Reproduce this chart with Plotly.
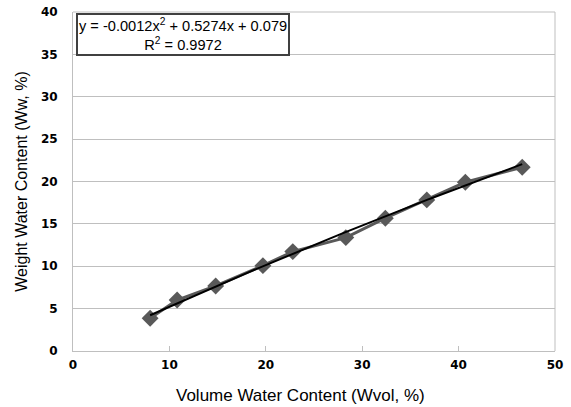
import numpy as np
import plotly.graph_objects as go

# Data
wvol = [8.0, 10.8, 14.8, 19.7, 22.8, 28.3, 32.4, 36.7, 40.7, 46.6]
ww = [3.86, 6.02, 7.67, 10.07, 11.73, 13.38, 15.67, 17.83, 19.92, 21.69]

# Polynomial trendline coefficients (as shown in the equation label)
trend_coef = [-0.0012, 0.5274, 0.079]

x_ticks = [0, 10, 20, 30, 40, 50]
y_ticks = [0, 5, 10, 15, 20, 25, 30, 35, 40]

xs = np.linspace(min(wvol), max(wvol), 100)
ys = np.polyval(trend_coef, xs)

fig = go.Figure()
fig.add_trace(go.Scatter(
    x=wvol, y=ww, mode="lines+markers",
    line=dict(color="#595959", width=3),
    marker=dict(symbol="diamond", size=13, color="#595959"),
    showlegend=False,
))
fig.add_trace(go.Scatter(
    x=xs, y=ys, mode="lines",
    line=dict(color="#000000", width=2),
    showlegend=False,
))

fig.add_annotation(
    xref="paper", yref="paper", x=0.006, y=0.998, xanchor="left", yanchor="top",
    text="y = -0.0012x<sup>2</sup> + 0.5274x + 0.079<br>R<sup>2</sup> = 0.9972",
    showarrow=False, align="center",
    font=dict(family="Liberation Sans, Arial", size=14.6, color="#000"),
    bordercolor="#404040", borderwidth=2, borderpad=1, bgcolor="white",
)

# X axis title placed as annotation (centered on chart area like the original)
fig.add_annotation(
    xref="paper", yref="paper", x=0.471, y=-0.13, xanchor="center", yanchor="middle",
    text="Volume Water Content (Wvol, %)", showarrow=False,
    font=dict(family="Liberation Sans, Arial", size=17, color="#000"),
)

fig.update_layout(
    width=571, height=407,
    margin=dict(l=73, r=16, t=12, b=56),
    paper_bgcolor="white", plot_bgcolor="white",
    xaxis=dict(
        range=[0, 50], tickvals=x_ticks, showgrid=False, automargin=False,
        showline=True, linecolor="#bfbfbf", linewidth=1, mirror=False,
        ticks="inside", ticklen=5, tickcolor="#bfbfbf", ticklabelstandoff=3,
        tickfont=dict(family="DejaVu Sans", size=12, color="#000", weight="bold"),
        zeroline=False,
    ),
    yaxis=dict(
        range=[0, 40], tickvals=y_ticks, showgrid=True, gridcolor="#bfbfbf", gridwidth=1,
        showline=True, linecolor="#bfbfbf", linewidth=1, automargin=False,
        ticks="", ticklabelstandoff=12,
        tickfont=dict(family="DejaVu Sans", size=12, color="#000", weight="bold"),
        title=dict(text="Weight Water Content (Ww, %)",
                   font=dict(family="Liberation Sans, Arial", size=16, color="#000"),
                   standoff=9),
        zeroline=False,
    ),
    shapes=[
        dict(type="line", xref="paper", yref="paper", x0=1, x1=1, y0=0, y1=1,
             line=dict(color="#bfbfbf", width=1)),
        dict(type="line", xref="paper", yref="paper", x0=0, x1=1, y0=1, y1=1,
             line=dict(color="#bfbfbf", width=1)),
    ],
)

fig.write_html("out.html", config={"displayModeBar": False},
               post_script="document.body.style.margin='0';")
